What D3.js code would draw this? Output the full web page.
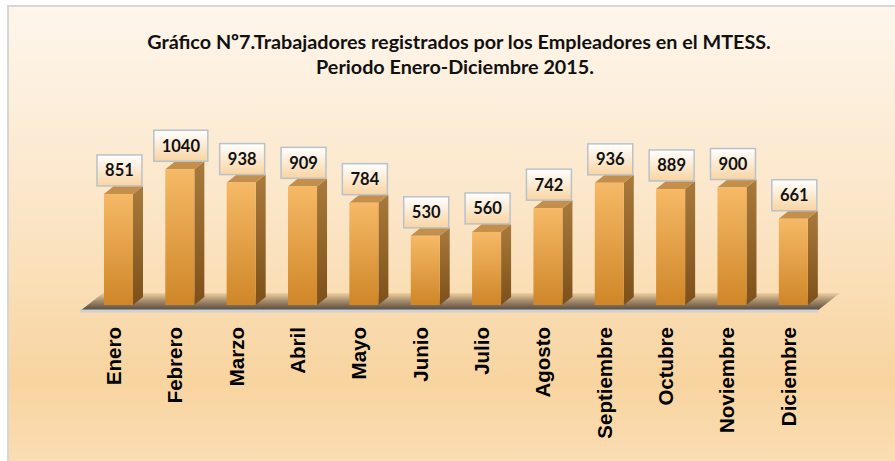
<!DOCTYPE html>
<html><head><meta charset="utf-8">
<script src="https://cdn.jsdelivr.net/npm/d3@7"></script>
<style>html,body{margin:0;padding:0;background:#fff;}svg{display:block;}</style>
</head><body>
<svg id="c" width="895" height="461"></svg>
<script>
const months = ["Enero","Febrero","Marzo","Abril","Mayo","Junio","Julio","Agosto","Septiembre","Octubre","Noviembre","Diciembre"];
const values = [851,1040,938,909,784,530,560,742,936,889,900,661];
const titleLines = ["Gráfico Nº7.Trabajadores registrados por los Empleadores en el MTESS.","Periodo Enero-Diciembre 2015."];

const svg = d3.select("#c");
const defs = svg.append("defs");
function lin(id, stops, x2=0, y2=1){
  const g = defs.append("linearGradient").attr("id",id).attr("x1",0).attr("y1",0).attr("x2",x2).attr("y2",y2);
  stops.forEach(s=>g.append("stop").attr("offset",s[0]).attr("stop-color",s[1]).attr("stop-opacity",s[2]==null?1:s[2]));
}
lin("bg",[[0,"#fef6ec"],[0.45,"#fbe5c6"],[0.8,"#f8d49f"],[1,"#fbdfb8"]]);
lin("front",[[0,"#f6b966"],[1,"#cf8628"]]);
lin("side",[[0,"#a97a3c"],[1,"#7c5019"]]);
lin("floor",[[0,"#efcf9f"],[0.45,"#a38b6c"],[1,"#4f4337"]]);
lin("box",[[0,"#ffffff"],[1,"#f9d4a2"]]);

// background
svg.append("rect").attr("x",8).attr("y",6).attr("width",900).attr("height",470).attr("fill","url(#bg)");
svg.append("path").attr("d","M8,470 L8,6 L900,6").attr("fill","none").attr("stroke","#d6d6d6").attr("stroke-width",2);

// title
const title = svg.append("g").attr("font-family","Lato, 'Open Sans', sans-serif").attr("font-weight","bold").attr("fill","#111").attr("text-anchor","middle");
const t1 = title.append("text").attr("x",459).attr("y",49).text(titleLines[0]).attr("font-size",17);
const w1 = t1.node().getComputedTextLength();
const fs = 17*624/w1;
t1.attr("font-size",fs);
title.append("text").attr("x",455).attr("y",74).attr("font-size",fs).text(titleLines[1]);

// scales
const x = d3.scaleBand().domain(months).range([87.8,824]).paddingInner(0.527).paddingOuter(0.2635);
const y = d3.scaleLinear().domain([0,1000]).range([305,174.5]);
const dx = 10, dy = 8;

// floor
const fl = [[80,311],[817,311],[840,293],[103,293]];
svg.append("path").attr("d","M"+fl.map(p=>p.join(",")).join("L")+"Z").attr("fill","url(#floor)");
svg.append("rect").attr("x",80).attr("y",309.5).attr("width",738).attr("height",3).attr("fill","#cdd2d6");

// bars
const bars = svg.append("g").selectAll("g").data(months).join("g");
bars.each(function(m,i){
  const g = d3.select(this);
  const x0 = x(m), w = x.bandwidth(), yt = y(values[i]), yb = y(0);
  g.append("path").attr("d",`M${x0+w},${yb} L${x0+w+dx},${yb-dy} L${x0+w+dx},${yt-dy} L${x0+w},${yt} Z`).attr("fill","url(#side)");
  g.append("path").attr("d",`M${x0},${yt} L${x0+dx},${yt-dy} L${x0+w+dx},${yt-dy} L${x0+w},${yt} Z`).attr("fill","#c38f4b");
  g.append("rect").attr("x",x0).attr("y",yt).attr("width",w).attr("height",yb-yt).attr("fill","url(#front)");
});

// value labels
const lab = svg.append("g");
const vfs = 16.5;
months.forEach((m,i)=>{
  const cx = x(m)+x.bandwidth()/2+1;
  const yb = y(values[i]) - dy;
  const g = lab.append("g");
  const s = String(values[i]).length;
  const bw = s===4 ? 54 : 45;
  g.append("rect").attr("x",cx-bw/2).attr("y",yb-31).attr("width",bw).attr("height",31).attr("fill","url(#box)").attr("stroke","#b9c2ca").attr("stroke-width",1.5);
  g.append("text").attr("x",cx).attr("y",yb-9.5).attr("text-anchor","middle")
    .attr("font-family","Lato, 'Open Sans', sans-serif").attr("font-weight","bold").attr("font-size",vfs).attr("fill","#111").text(values[i]);
});

// category labels
svg.append("g").selectAll("text").data(months).join("text")
  .attr("transform",m=>`translate(${x(m)+x.bandwidth()/2-5},327) rotate(-90)`)
  .attr("text-anchor","end").attr("dominant-baseline","central")
  .attr("font-family","'Liberation Sans', Arial, sans-serif").attr("font-weight","bold").attr("font-size",20.5).attr("fill","#000")
  .text(d=>d);
</script>
</body></html>
